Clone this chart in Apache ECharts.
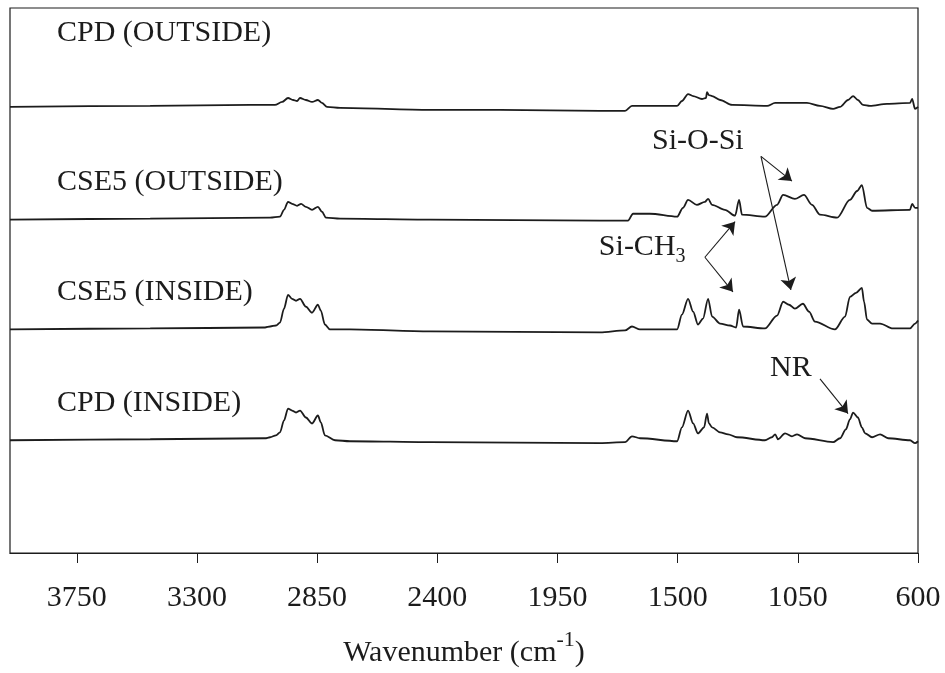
<!DOCTYPE html>
<html><head><meta charset="utf-8">
<script src="https://cdn.jsdelivr.net/npm/echarts@6/dist/echarts.min.js"></script>
<style>html,body{margin:0;padding:0;background:#fff}#c{width:945px;height:673px}</style>
</head><body><div id="c"></div>
<script>
// x tick labels (wavenumber, cm-1)
const tickValues = [3750, 3300, 2850, 2400, 1950, 1500, 1050, 600];
const seriesNames = ['CPD (OUTSIDE)', 'CSE5 (OUTSIDE)', 'CSE5 (INSIDE)', 'CPD (INSIDE)'];
// vertical offsets of the stacked spectra (a.u.)
const baselineOffsets = [451, 337, 226, 114];

// [wavenumber, absorbance a.u.]
const cpdOutside = [[4000,0],[3475,1],[3100,2],[3008,2],[2981,5],[2959,9],[2940,7],[2925,6],[2914,9],[2892,7],[2869,5],[2847,7],[2832,4],[2813,0],[2764,-1],[2427,-3],[2165,-3],[1791,-4],[1697,-4],[1671,1],[1604,1],[1502,1],[1484,6],[1461,13],[1442,11],[1409,8],[1394,9],[1390,15],[1383,12],[1371,11],[1341,7],[1296,2],[1165,1],[1135,4],[1079,4],[1016,4],[967,1],[918,-2],[892,0],[862,7],[843,11],[825,7],[806,2],[780,1],[716,3],[630,4],[622,8],[611,-2],[600,0]];
const cse5Outside = [[4000,0],[3475,1],[3026,2],[2989,3],[2974,10],[2959,18],[2944,16],[2925,14],[2910,16],[2892,13],[2869,10],[2847,13],[2832,8],[2817,2],[2764,1],[2427,0],[1791,-1],[1686,-1],[1667,6],[1604,6],[1502,3],[1480,12],[1461,20],[1428,15],[1398,18],[1386,21],[1371,15],[1323,10],[1285,4],[1270,20],[1259,5],[1173,3],[1128,15],[1105,25],[1061,21],[1027,25],[997,15],[967,5],[903,2],[855,20],[828,29],[810,35],[791,12],[772,9],[630,10],[622,16],[611,12],[600,12]];
const cse5Inside = [[4000,0],[3475,1],[3045,2],[3026,3],[3004,4],[2989,7],[2974,21],[2959,35],[2944,31],[2929,29],[2914,31],[2892,23],[2869,17],[2847,25],[2836,19],[2821,5],[2802,0],[2727,0],[2427,-2],[1791,-3],[1697,-1],[1671,3],[1641,0],[1502,0],[1484,15],[1461,31],[1442,18],[1424,5],[1405,11],[1386,31],[1371,13],[1341,6],[1304,4],[1281,2],[1270,20],[1255,3],[1173,1],[1128,14],[1105,28],[1083,25],[1061,21],[1031,26],[1008,18],[986,8],[911,0],[873,13],[855,33],[832,37],[810,42],[802,28],[791,10],[772,6],[742,6],[694,1],[630,1],[611,6],[600,9]];
const cpdInside = [[4000,0],[3475,1],[3045,2],[3026,3],[3004,5],[2989,8],[2974,20],[2959,32],[2944,30],[2929,28],[2914,30],[2892,23],[2869,17],[2847,25],[2836,18],[2821,5],[2783,0],[2727,-1],[2427,-2],[1791,-3],[1697,-2],[1671,4],[1641,2],[1502,-1],[1484,13],[1461,30],[1442,17],[1424,7],[1401,13],[1390,27],[1383,17],[1371,13],[1341,8],[1311,6],[1278,3],[1173,0],[1147,3],[1135,6],[1124,1],[1098,7],[1072,4],[1053,6],[1023,2],[918,-2],[892,2],[870,11],[855,21],[843,28],[825,23],[810,13],[798,7],[772,3],[742,6],[712,2],[630,0],[611,-3],[600,-1]];

// annotation arrows: [from, to] in [wavenumber, stacked a.u.]
const arrows = [
  [[1188,401],[1072,376]], [[1188,401],[1076,266]],
  [[1398,299],[1285,335]], [[1398,299],[1293,264]],
  [[967,176],[862,141]]
];
// text anchors [wavenumber, stacked a.u.] (left, vertical middle)
const seriesLabelAnchors = [[3824,526],[3824,375],[3824,264],[3824,152]];
const annotations = [
  {text:'Si-O-Si', at:[1596,416]},
  {text:'{a|Si-CH}{b|3}', at:[1795,307]},
  {text:'NR', at:[1154,187]}
];

const FONT = "'Liberation Serif','Times New Roman',serif";
const INK = '#1c1c1c';
const FS = 30;
const chart = echarts.init(document.getElementById('c'));
const spectra = [cpdOutside, cse5Outside, cse5Inside, cpdInside];
const series = spectra.map((s, i) => ({
  type: 'line', name: seriesNames[i],
  data: s.map(p => [p[0], p[1] + baselineOffsets[i]]),
  showSymbol: false, symbol: 'none', smooth: 0.3, smoothMonotone: 'x',
  lineStyle: {color: INK, width: 1.8}, animation: false, silent: true
}));
series[0].markLine = {
  silent: true, animation: false, symbol: ['none', 'arrow'], symbolSize: 12,
  lineStyle: {color: INK, width: 1.1, type: 'solid'}, label: {show: false},
  emphasis: {disabled: true},
  data: arrows.map(a => [{coord: a[0]}, {coord: a[1]}])
};

chart.setOption({
  backgroundColor: '#fff',
  animation: false,
  grid: {left: 10, right: 27, top: 8, bottom: 114, show: true, borderColor: INK, borderWidth: 1.2},
  xAxis: {
    type: 'value', inverse: true, min: 600, max: 4000,
    axisLine: {lineStyle: {color: INK, width: 1.2}},
    axisTick: {show: true, length: 10, customValues: tickValues, lineStyle: {color: INK}},
    axisLabel: {customValues: tickValues, margin: 30, fontFamily: FONT, fontSize: FS, color: INK,
      formatter: v => String(v)},
    splitLine: {show: false},
    name: '{a|Wavenumber (cm}{s|-1}{a|)}', nameLocation: 'middle', nameGap: 76,
    nameTextStyle: {rich: {
      a: {fontFamily: FONT, fontSize: FS, color: INK, verticalAlign: 'bottom'},
      s: {fontFamily: FONT, fontSize: 22, color: INK, verticalAlign: 'bottom', padding: [0,0,17,0]}
    }}
  },
  yAxis: {type: 'value', min: 0, max: 551, show: false},
  series: series
});

const gfx = [];
seriesLabelAnchors.forEach((a, i) => {
  const p = chart.convertToPixel({gridIndex: 0}, a);
  gfx.push({type: 'text', x: p[0], y: p[1], silent: true,
    style: {text: seriesNames[i], font: FS + 'px ' + FONT, fill: INK, align: 'left', verticalAlign: 'middle'}});
});
annotations.forEach(an => {
  const p = chart.convertToPixel({gridIndex: 0}, an.at);
  gfx.push({type: 'text', x: p[0], y: p[1], silent: true,
    style: {text: an.text, font: FS + 'px ' + FONT, fill: INK, align: 'left', verticalAlign: 'middle',
      rich: {a: {fontSize: FS, fontFamily: FONT, fill: INK, verticalAlign: 'top'},
             b: {fontSize: 20, fontFamily: FONT, fill: INK, verticalAlign: 'top', padding: [15,0,0,0]}}}});
});
chart.setOption({graphic: gfx});
</script>
</body></html>
